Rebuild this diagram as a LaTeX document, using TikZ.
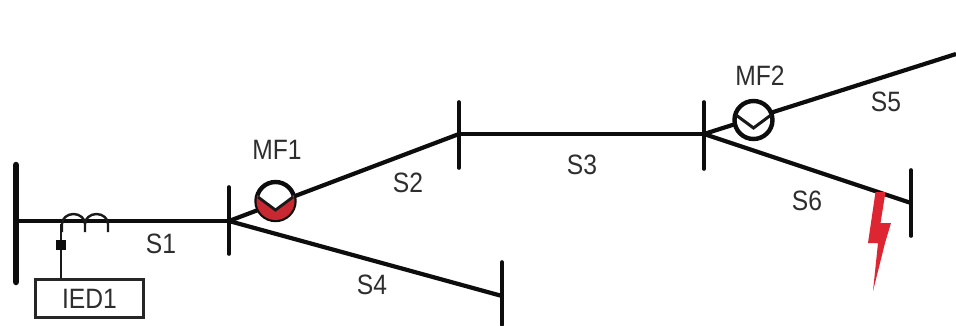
\documentclass[tikz,border=0pt]{standalone}
\usepackage{fontspec}
\setmainfont[FakeStretch=0.88]{Liberation Sans}
\definecolor{boltred}{RGB}{222,38,50}
\definecolor{meterred}{RGB}{200,40,50}
\begin{document}
\begin{tikzpicture}[x=1pt,y=-1pt,
  line/.style={draw=black!95,line width=4.2pt},
  barbus/.style={draw=black!95,line width=3.6pt,line cap=round},
  lab/.style={font=\fontsize{28}{30}\selectfont,text=black!82,inner sep=0pt},
  meter/.style={circle,draw=black!95,line width=4.4pt,fill=white,minimum size=38pt,inner sep=0pt}]
\useasboundingbox (0,0) rectangle (956,325);
\fill[white] (0,0) rectangle (956,325);
% coordinates
\coordinate (b0t) at (16,165); \coordinate (b0b) at (16,282); \coordinate (b0) at (16,221);
\coordinate (b1t) at (229,187); \coordinate (b1b) at (229,254); \coordinate (b1) at (229,221);
\coordinate (b2t) at (459,102); \coordinate (b2b) at (459,168); \coordinate (b2) at (459,134);
\coordinate (b3t) at (704,102); \coordinate (b3b) at (704,169); \coordinate (b3) at (704,134);
\coordinate (b4t) at (502,262); \coordinate (b4b) at (502,325); \coordinate (b4) at (502,296);
\coordinate (b5t) at (911,170); \coordinate (b5b) at (911,236); \coordinate (b5) at (911,203);
\coordinate (e5) at (956,54);
% lines
\draw[line] (b0) -- (b1);
\draw[line] (b1) -- (b2);
\draw[line] (b1) -- (b4);
\draw[line] (b2) -- (b3);
\draw[line] (b3) -- (e5);
\draw[line] (b3) -- (b5);
% buses
\draw[draw=black!95,line width=6.5pt,line cap=round] (b0t) -- (b0b);
\foreach \n in {b1,b2,b3,b4,b5} \draw[barbus] (\n t) -- (\n b);
% meters
\node[meter] (mf1) at (275.5,201) {};
\node[meter] (mf2) at (753.5,120) {};
\begin{scope}
 \clip (275.5,201) circle (19pt);
 \fill[meterred] (255,193) -- (275.5,210) -- (296,193) -- (296,225) -- (255,225) -- cycle;
\end{scope}
\draw[black!90,line width=2.8pt] (258,197) -- (275.5,210) -- (293,197);
\draw[black!90,line width=3pt] (736,115) -- (753.5,128) -- (771,115);
% current transformer
\draw[black!90,line width=2.4pt] (62,232) -- (62,224) arc[start angle=180,end angle=0,x radius=11.5pt,y radius=10pt] -- (85,232);
\draw[black!90,line width=2.4pt] (85,224) arc[start angle=180,end angle=0,x radius=11.5pt,y radius=10pt] -- (108,232);
% IED
\node[draw=black!85,line width=2.2pt,minimum width=108pt,minimum height=38pt,inner sep=0pt,font=\fontsize{28}{30}\selectfont,text=black!82] (ied) at (89.5,298.5) {IED1};
\coordinate (ctb) at (61,224);
\draw[black!90,line width=2.4pt] (ctb) -- (ied.north -| ctb);
\node[fill=black!95,minimum size=10pt,inner sep=0pt] (sq) at (61,245) {};
% lightning
\fill[boltred] (875.5,192) -- (885.5,192) -- (880.5,223) -- (891,223) -- (885,243) -- (873,291) -- (878,243) -- (868,243) -- cycle;
% labels
\node[lab] (lmf1) at (277,150) {MF1};
\node[lab] (lmf2) at (760,76) {MF2};
\node[lab] (ls1) at (161,244) {S1};
\node[lab] (ls2) at (408,183) {S2};
\node[lab] (ls3) at (582,165) {S3};
\node[lab] (ls4) at (372,285) {S4};
\node[lab] (ls5) at (886,102) {S5};
\node[lab] (ls6) at (807,201) {S6};
\end{tikzpicture}
\end{document}
